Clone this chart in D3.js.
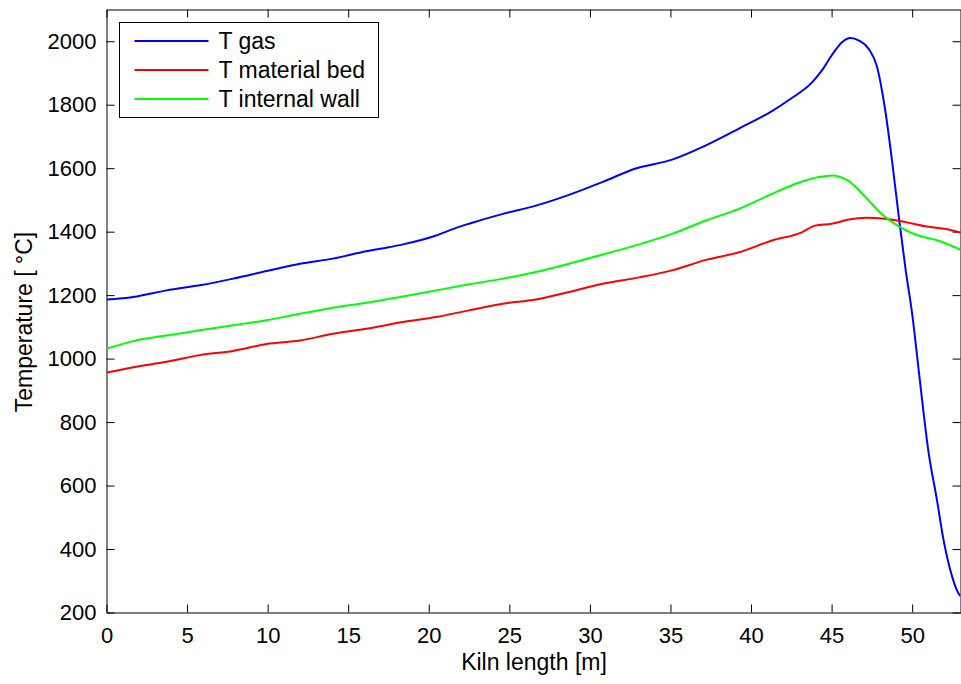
<!DOCTYPE html>
<meta charset="utf-8">
<style>
body { margin: 0; background: #fff; }
svg { display: block; font-family: "Liberation Sans", Arial, sans-serif; }
.axis path, .axis line { stroke: #000; }
.axis text { font-size: 22px; fill: #000; }
.curve { fill: none; stroke-width: 2; stroke-linejoin: round; }
</style>
<body>
<svg width="961" height="684"></svg>
<script src="https://d3js.org/d3.v7.min.js"></script>
<script>
// T gas
var gasX = [0, 1.66, 3.73, 5.79, 7.86, 9.93, 12, 14.05, 16.12, 17.2, 18.4, 20.46, 21.7, 22.5, 24.6, 26.65,
  28.7, 30.8, 32.85, 35.1, 37.2, 39.25, 41.3, 42.35, 43.8, 44.4, 45.0, 45.65, 46.17, 46.7, 47.3, 47.8,
  48.3, 48.75, 49.2, 49.6, 50.0, 50.5, 51.0, 51.54, 51.95, 52.37, 52.88, 53];
var gasT = [1186, 1194, 1215, 1231, 1252, 1276, 1299, 1315, 1338, 1348, 1360, 1388, 1412, 1425, 1456, 1482,
  1516, 1557, 1599, 1627, 1672, 1725, 1780, 1815, 1871, 1908, 1955, 1997, 2010, 2002, 1976, 1923,
  1792, 1624, 1435, 1278, 1141, 921, 711, 554, 428, 333, 260, 252];

// T material bed
var bedX = [0, 1.66, 3.73, 5.79, 7.86, 9.93, 12, 14.05, 16.12, 18.4, 20.46, 22.5, 24.6, 26.65, 28.7, 30.8,
  33.06, 35.1, 37.2, 39.25, 41.3, 43.15, 43.97, 45.0, 46.07, 47.1, 48.3, 49.6, 50.8, 52.0, 53];
var bedT = [956, 973, 990, 1011, 1024, 1046, 1057, 1078, 1094, 1115, 1131, 1152, 1173, 1186, 1210, 1236,
  1256, 1278, 1311, 1335, 1372, 1398, 1419, 1425, 1438, 1444, 1441, 1430, 1417, 1409, 1397];

// T internal wall
var wallX = [0, 1.66, 3.73, 5.79, 7.86, 9.93, 12, 14.05, 16.12, 18.4, 20.46, 22.5, 24.6, 26.65, 28.7, 30.8,
  33.06, 35.1, 37.2, 39.25, 41.3, 42.95, 44.2, 45.0, 46.07, 47.1, 48.1, 49.2, 50.2, 51.6, 53];
var wallT = [1031, 1055, 1073, 1089, 1105, 1121, 1141, 1160, 1176, 1196, 1215, 1234, 1252, 1273, 1299, 1328,
  1360, 1393, 1435, 1472, 1519, 1554, 1572, 1577, 1559, 1509, 1456, 1416, 1391, 1372, 1343];

var seriesNames = ["T gas", "T material bed", "T internal wall"];
var seriesColors = ["#0000ff", "#ff0000", "#00ff00"];
var xTicks = [0, 5, 10, 15, 20, 25, 30, 35, 40, 45, 50];
var yTicks = [200, 400, 600, 800, 1000, 1200, 1400, 1600, 1800, 2000];

var svg = d3.select("svg"),
    margin = {top: 9.5, right: 0.5, bottom: 71.5, left: 106.5},
    width = +svg.attr("width") - margin.left - margin.right,
    height = +svg.attr("height") - margin.top - margin.bottom;

var x = d3.scaleLinear().domain([0, 53]).range([0, width]);
var y = d3.scaleLinear().domain([200, 2100]).range([height, 0]);

var g = svg.append("g")
    .attr("transform", "translate(" + margin.left + "," + margin.top + ")");

g.append("clipPath").attr("id", "clip")
  .append("rect").attr("width", width).attr("height", height);

// ticks inside the box on all four sides
g.append("g")
    .attr("class", "axis")
    .attr("transform", "translate(0," + height + ")")
    .call(d3.axisBottom(x).tickValues(xTicks).tickFormat(d3.format("d"))
      .tickSizeInner(-8).tickSizeOuter(0).tickPadding(15));
g.append("g")
    .attr("class", "axis")
    .call(d3.axisTop(x).tickValues(xTicks).tickSizeInner(-8).tickSizeOuter(0).tickFormat(""));
g.append("g")
    .attr("class", "axis")
    .call(d3.axisLeft(y).tickValues(yTicks).tickFormat(d3.format("d"))
      .tickSizeInner(-8).tickSizeOuter(0).tickPadding(10));
g.append("g")
    .attr("class", "axis")
    .attr("transform", "translate(" + width + ",0)")
    .call(d3.axisRight(y).tickValues(yTicks).tickSizeInner(-8).tickSizeOuter(0).tickFormat(""));

var line = d3.line()
    .x(function(d) { return x(d[0]); })
    .y(function(d) { return y(d[1]); })
    .curve(d3.curveMonotoneX);

var allSeries = [
  d3.zip(gasX, gasT),
  d3.zip(bedX, bedT),
  d3.zip(wallX, wallT)
];

g.append("g").attr("clip-path", "url(#clip)")
  .selectAll("path")
  .data(allSeries)
  .enter().append("path")
    .attr("class", "curve")
    .attr("stroke", function(d, i) { return seriesColors[i]; })
    .attr("d", line);

// legend
var legend = g.append("g").attr("transform", "translate(13,13)");
legend.append("rect")
    .attr("width", 259).attr("height", 95)
    .attr("fill", "#fff").attr("stroke", "#000");
seriesNames.forEach(function(name, i) {
  var yy = 18.5 + i * 29;
  legend.append("line")
      .attr("x1", 15).attr("x2", 89).attr("y1", yy).attr("y2", yy)
      .attr("stroke", seriesColors[i]).attr("stroke-width", 2);
  legend.append("text")
      .attr("x", 99).attr("y", yy).attr("dy", "0.35em")
      .style("font-size", "23px")
      .text(name);
});

// axis titles
svg.append("text")
    .attr("x", 534).attr("y", 670)
    .attr("text-anchor", "middle")
    .style("font-size", "23px")
    .text("Kiln length [m]");
svg.append("text")
    .attr("transform", "translate(32," + 322 + ") rotate(-90)")
    .attr("text-anchor", "middle")
    .style("font-size", "23px")
    .text("Temperature [ °C]");
</script>
</body>
